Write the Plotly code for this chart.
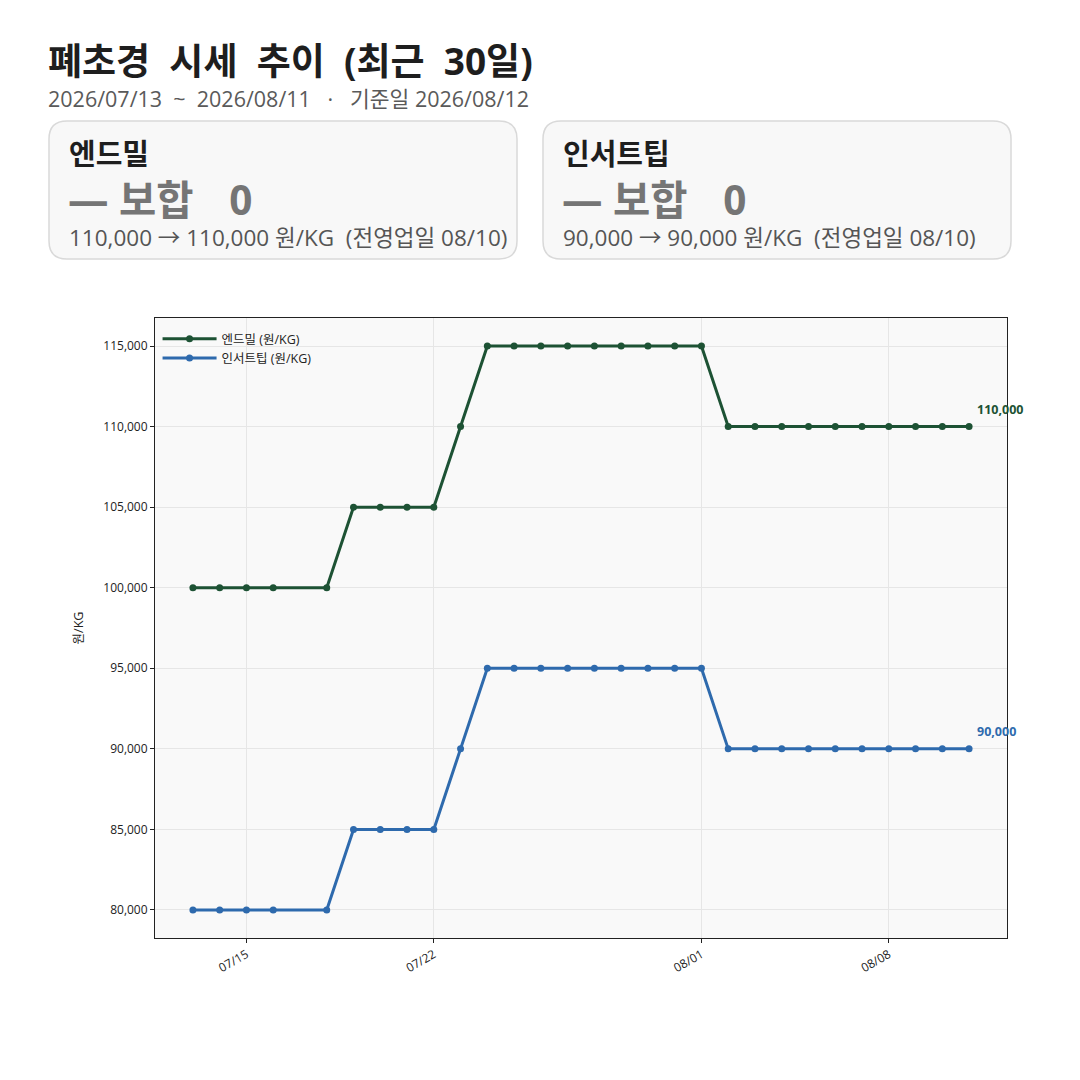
import plotly.graph_objects as go

dates = ["2026-07-13", "2026-07-14", "2026-07-15", "2026-07-16", "2026-07-18",
         "2026-07-19", "2026-07-20", "2026-07-21", "2026-07-22", "2026-07-23",
         "2026-07-24", "2026-07-25", "2026-07-26", "2026-07-27", "2026-07-28",
         "2026-07-29", "2026-07-30", "2026-07-31", "2026-08-01", "2026-08-02",
         "2026-08-03", "2026-08-04", "2026-08-05", "2026-08-06", "2026-08-07",
         "2026-08-08", "2026-08-09", "2026-08-10", "2026-08-11"]
endmill = [100000, 100000, 100000, 100000, 100000,
           105000, 105000, 105000, 105000, 110000,
           115000, 115000, 115000, 115000, 115000,
           115000, 115000, 115000, 115000, 110000,
           110000, 110000, 110000, 110000, 110000,
           110000, 110000, 110000, 110000]
insert = [80000, 80000, 80000, 80000, 80000,
          85000, 85000, 85000, 85000, 90000,
          95000, 95000, 95000, 95000, 95000,
          95000, 95000, 95000, 95000, 90000,
          90000, 90000, 90000, 90000, 90000,
          90000, 90000, 90000, 90000]
series_names = ["엔드밀 (원/KG)", "인서트팁 (원/KG)"]
card_names = ["엔드밀", "인서트팁"]
card_change = ["— 보합   0", "— 보합   0"]
card_detail = ["110,000 → 110,000 원/KG  (전영업일 08/10)",
               "90,000 → 90,000 원/KG  (전영업일 08/10)"]
tick_vals = ["2026-07-15", "2026-07-22", "2026-08-01", "2026-08-08"]
tick_text = ["07/15", "07/22", "08/01", "08/08"]
title_text = "폐초경  시세  추이  (최근  30일)"
subtitle_text = "2026/07/13  ~  2026/08/11   ·   기준일 2026/08/12"

GREEN = "#1d5234"
BLUE = "#2e6aad"
FONT = "Open Sans, Noto Sans CJK KR"

W, H = 1080, 1080
L, R, T, B = 155, 1007, 318, 938


def px(x):
    return (x - L) / (R - L)


def py(y):
    return (B - y) / (B - T)


def nb(s):
    return s.replace(" ", "&nbsp;")


fig = go.Figure()
fig.add_trace(go.Scatter(x=dates, y=endmill, mode="lines+markers", name=series_names[0],
                         line=dict(color=GREEN, width=3), marker=dict(size=7, color=GREEN)))
fig.add_trace(go.Scatter(x=dates, y=insert, mode="lines+markers", name=series_names[1],
                         line=dict(color=BLUE, width=3), marker=dict(size=7, color=BLUE)))

# end labels
for vals, col in ((endmill, GREEN), (insert, BLUE)):
    fig.add_annotation(x=dates[-1], y=vals[-1], text=f"<b>{vals[-1]:,}</b>", showarrow=False,
                       xanchor="left", yanchor="bottom", xshift=6, yshift=7,
                       font=dict(size=12.5, color=col, family=FONT))

# title / subtitle
fig.add_annotation(xref="paper", yref="paper", x=px(46), y=py(60), text=f"<b>{nb(title_text)}</b>",
                   showarrow=False, xanchor="left", yanchor="middle",
                   font=dict(size=37, color="#1e1e1e", family=FONT))
fig.add_annotation(xref="paper", yref="paper", x=px(46), y=py(99),
                   text=nb(subtitle_text),
                   showarrow=False, xanchor="left", yanchor="middle",
                   font=dict(size=21.5, color="#5a5a5a", family=FONT))


def rounded(x0, y0, x1, y1, r):
    X0, X1 = px(x0), px(x1)
    Y0, Y1 = py(y0), py(y1)  # Y0 top (larger), Y1 bottom
    rx = r / (R - L)
    ry = r / (B - T)
    return (f"M {X0+rx},{Y0} L {X1-rx},{Y0} Q {X1},{Y0} {X1},{Y0-ry} "
            f"L {X1},{Y1+ry} Q {X1},{Y1} {X1-rx},{Y1} L {X0+rx},{Y1} "
            f"Q {X0},{Y1} {X0},{Y1+ry} L {X0},{Y0-ry} Q {X0},{Y0} {X0+rx},{Y0} Z")


card_x = [49, 543]
for i in range(2):
    x0 = card_x[i]
    fig.add_shape(type="path", xref="paper", yref="paper",
                  path=rounded(x0, 121, x0 + 468, 259, 18),
                  fillcolor="#f8f8f8", line=dict(color="#d9d9d9", width=1.5), layer="above")
    fig.add_annotation(xref="paper", yref="paper", x=px(x0 + 18), y=py(153),
                       text=f"<b>{card_names[i]}</b>", showarrow=False,
                       xanchor="left", yanchor="middle",
                       font=dict(size=29, color="#1e1e1e", family=FONT))
    fig.add_annotation(xref="paper", yref="paper", x=px(x0 + 17), y=py(200),
                       text=f"<b>{nb(card_change[i])}&#8202;</b>".replace("&nbsp;0", "&#8202;&nbsp;0"),
                       showarrow=False, xanchor="left", yanchor="middle",
                       font=dict(size=40.5, color="#757575", family=FONT))
    fig.add_annotation(xref="paper", yref="paper", x=px(x0 + 18), y=py(238),
                       text=nb(card_detail[i]), showarrow=False,
                       xanchor="left", yanchor="middle",
                       font=dict(size=22.5, color="#555555", family=FONT))

fig.update_layout(
    width=W, height=H,
    margin=dict(l=L, r=W - R, t=T, b=H - B),
    paper_bgcolor="white", plot_bgcolor="#f9f9f9",
    font=dict(family=FONT, size=12, color="#222"),
    showlegend=True,
    legend=dict(x=0.003, y=0.99, xanchor="left", yanchor="top", bgcolor="rgba(0,0,0,0)",
                font=dict(size=12.5, color="#222"), itemwidth=54, tracegroupgap=0),
)
fig.update_xaxes(type="date", range=["2026-07-11 14:00", "2026-08-12 10:00"],
                 tickvals=tick_vals, ticktext=tick_text, tickangle=-30,
                 ticks="outside", ticklen=4, tickcolor="#222",
                 showline=True, linecolor="#222", linewidth=1, mirror=True,
                 showgrid=True, gridcolor="#e6e6e6", gridwidth=1, zeroline=False,
                 tickfont=dict(size=12, color="#222"))
fig.update_yaxes(range=[78262, 116738], tickvals=[80000, 85000, 90000, 95000, 100000, 105000, 110000, 115000],
                 tickformat=",d", ticks="outside", ticklen=4, tickcolor="#222",
                 showline=True, linecolor="#222", linewidth=1, mirror=True,
                 showgrid=True, gridcolor="#e6e6e6", gridwidth=1, zeroline=False,
                 title=dict(text="원/KG", font=dict(size=12.5, color="#222"), standoff=16),
                 tickfont=dict(size=12, color="#222"))

fig.write_html("out.html", config={"displayModeBar": False},
               post_script="document.body.style.margin='0';document.body.style.overflow='hidden';")
